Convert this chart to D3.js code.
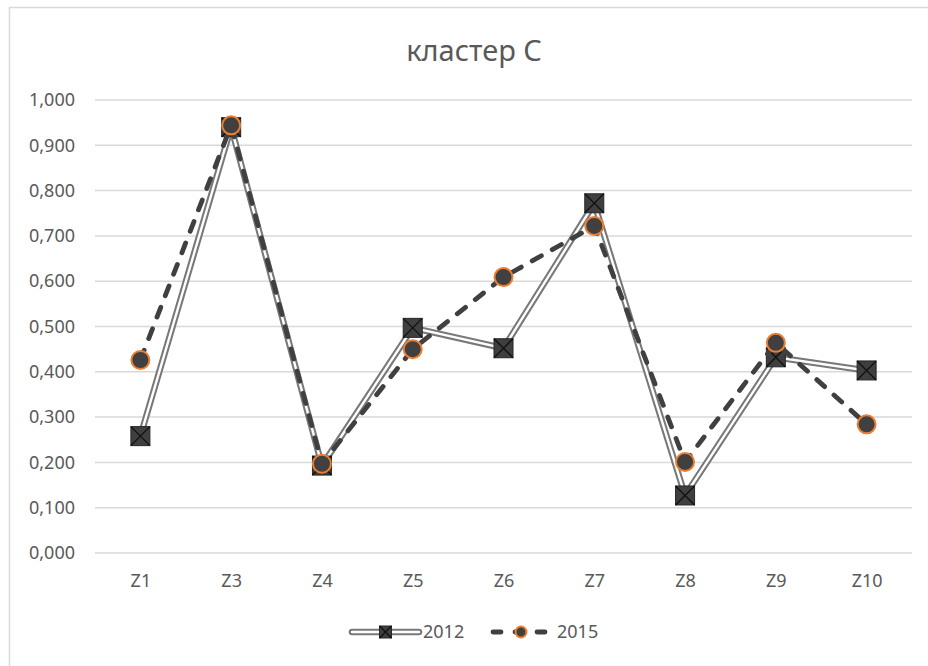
<!DOCTYPE html>
<html>
<head>
<meta charset="utf-8">
<script src="https://cdn.jsdelivr.net/npm/d3@7"></script>
<style>
  html, body { margin: 0; padding: 0; background: #fff; }
  svg { display: block; }
  text { font-family: "Noto Sans", "Open Sans", sans-serif; fill: #595959; }
</style>
</head>
<body>
<svg id="chart" width="928" height="666"></svg>
<script>
const categories = ["Z1", "Z3", "Z4", "Z5", "Z6", "Z7", "Z8", "Z9", "Z10"];
const series2012 = [0.258, 0.940, 0.193, 0.497, 0.452, 0.772, 0.127, 0.432, 0.403];
const series2015 = [0.426, 0.944, 0.197, 0.450, 0.609, 0.722, 0.201, 0.464, 0.284];
const yTickValues = [0, 0.1, 0.2, 0.3, 0.4, 0.5, 0.6, 0.7, 0.8, 0.9, 1.0];
const seriesNames = ["2012", "2015"];
const title = "кластер С";

const svg = d3.select("#chart");
const W = 928, H = 666;
const plot = { left: 95, right: 912, top: 100, bottom: 553 };

// outer chart frame
svg.append("rect")
  .attr("x", 9.5).attr("y", 7.5)
  .attr("width", W + 20).attr("height", H + 20)
  .attr("fill", "#fff")
  .attr("stroke", "#d9d9d9").attr("stroke-width", 1.5);

const x = d3.scalePoint().domain(categories).range([plot.left, plot.right]).padding(0.5);
const y = d3.scaleLinear().domain([0, 1]).range([plot.bottom, plot.top]);

const fmt = v => d3.format(".3f")(v).replace(".", ",");

// gridlines
svg.append("g").selectAll("line").data(yTickValues).join("line")
  .attr("x1", plot.left).attr("x2", plot.right)
  .attr("y1", d => y(d)).attr("y2", d => y(d))
  .attr("stroke", "#d9d9d9").attr("stroke-width", 1.5);

// y axis labels
const yAxis = d3.axisLeft(y).tickValues(yTickValues).tickFormat(fmt).tickSize(0).tickPadding(20);
const gy = svg.append("g").attr("transform", `translate(${plot.left},0)`).call(yAxis);
gy.select(".domain").remove();
gy.selectAll("text").style("font-size", "18px").attr("fill", "#595959")
  .style("font-family", '"Noto Sans", sans-serif');

// x axis labels
const xAxis = d3.axisBottom(x).tickSize(0).tickPadding(21);
const gx = svg.append("g").attr("transform", `translate(0,${plot.bottom})`).call(xAxis);
gx.select(".domain").remove();
gx.selectAll("text").style("font-size", "18px").attr("fill", "#595959")
  .style("font-family", '"Noto Sans", sans-serif');

// title
svg.append("text")
  .attr("x", 474).attr("y", 61)
  .attr("text-anchor", "middle")
  .style("font-size", "29px")
  .text(title);

const line = d3.line().x((d, i) => x(categories[i])).y(d => y(d));

// 2012 series: compound double line
svg.append("path").datum(series2012)
  .attr("d", line).attr("fill", "none")
  .attr("stroke", "#787878").attr("stroke-width", 6.5).attr("stroke-linejoin", "miter");
svg.append("path").datum(series2012)
  .attr("d", line).attr("fill", "none")
  .attr("stroke", "#ffffff").attr("stroke-width", 2.4);

function squareMarker(g, cx, cy, s) {
  g.append("rect").attr("x", cx - s / 2).attr("y", cy - s / 2)
    .attr("width", s).attr("height", s)
    .attr("fill", "#3f3f3f").attr("stroke", "#262626").attr("stroke-width", 1);
  g.append("path")
    .attr("d", `M${cx - s / 2},${cy - s / 2}L${cx + s / 2},${cy + s / 2}M${cx + s / 2},${cy - s / 2}L${cx - s / 2},${cy + s / 2}`)
    .attr("stroke", "#111").attr("stroke-width", 1.3);
}
const m2012 = svg.append("g");
series2012.forEach((v, i) => squareMarker(m2012, x(categories[i]), y(v), 19));

// 2015 series: dashed line
svg.append("path").datum(series2015)
  .attr("d", line).attr("fill", "none")
  .attr("stroke", "#404040").attr("stroke-width", 4.8)
  .attr("stroke-dasharray", "10.5,12.5").attr("stroke-linecap", "round");

function circleMarker(g, cx, cy, r) {
  g.append("circle").attr("cx", cx).attr("cy", cy).attr("r", r)
    .attr("fill", "#404040").attr("stroke", "#ed7d31").attr("stroke-width", 2);
}
const m2015 = svg.append("g");
series2015.forEach((v, i) => circleMarker(m2015, x(categories[i]), y(v), 9));

// legend
const ly = 632;
const lg = svg.append("g");
lg.append("line").attr("x1", 352).attr("x2", 419).attr("y1", ly).attr("y2", ly)
  .attr("stroke", "#787878").attr("stroke-width", 6.5).attr("stroke-linecap", "round");
lg.append("line").attr("x1", 352).attr("x2", 419).attr("y1", ly).attr("y2", ly)
  .attr("stroke", "#fff").attr("stroke-width", 2.4).attr("stroke-linecap", "round");
squareMarker(lg, 385.5, ly, 12);
lg.append("text").attr("x", 423).attr("y", ly).attr("dy", "0.35em")
  .style("font-size", "18px").text(seriesNames[0]);

lg.append("line").attr("x1", 493).attr("x2", 551).attr("y1", ly).attr("y2", ly)
  .attr("stroke", "#404040").attr("stroke-width", 4.8)
  .attr("stroke-dasharray", "8,14").attr("stroke-linecap", "round");
circleMarker(lg, 521, ly, 5.5);
lg.append("text").attr("x", 557).attr("y", ly).attr("dy", "0.35em")
  .style("font-size", "18px").text(seriesNames[1]);
</script>
</body>
</html>
